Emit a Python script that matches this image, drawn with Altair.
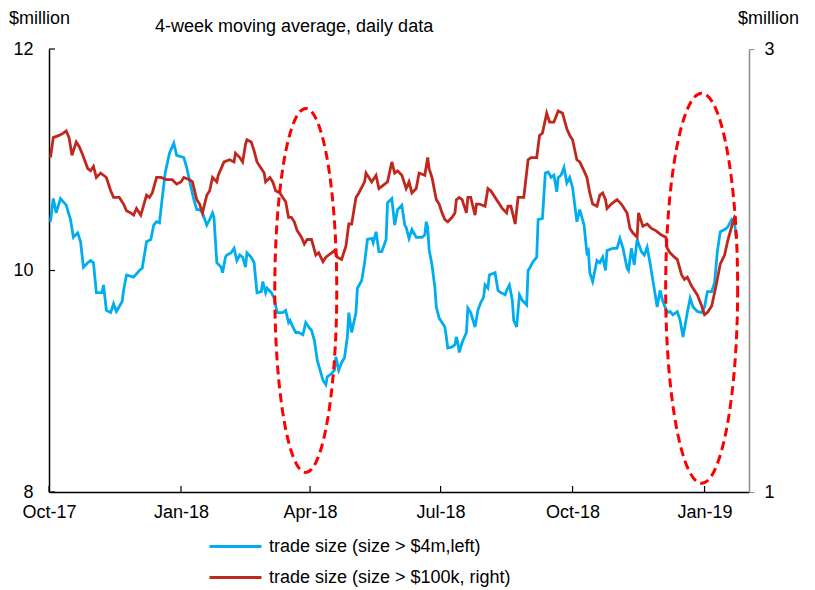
import altair as alt
import pandas as pd

FONT = "Liberation Sans"
BASE = pd.Timestamp("2017-10-01")

# days since 2017-10-01 and values (left axis, $million) - trade size > $4m
blue_days = [1, 3, 5, 8, 12, 15, 17, 20, 22, 24, 27, 29, 31, 33, 37, 38, 40, 43, 45, 47,
             51, 52, 54, 59, 63, 65, 68, 71, 73, 75, 77, 79, 81, 84, 87, 89, 94, 96, 99, 101,
             103, 105, 107, 110, 112, 114, 115, 117, 120, 121, 123, 124, 127, 129, 131, 133, 135, 137, 138, 141,
             143, 145, 148, 149, 151, 152, 155, 157, 159, 163, 165, 167, 168, 170, 172, 174, 177, 179, 181, 183,
             185, 187, 189, 191, 193, 194, 197, 199, 200, 202, 204, 206, 208, 209, 211, 214, 215, 218, 220, 222,
             225, 226, 228, 230, 232, 235, 236, 239, 241, 243, 246, 248, 249, 251, 253, 256, 260, 262, 263, 264,
             265, 267, 269, 270, 272, 274, 276, 277, 278, 281, 283, 284, 285, 286, 288, 291, 292, 294, 297, 299,
             301, 303, 304, 306, 307, 311, 313, 315, 318, 319, 321, 323, 324, 326, 328, 330, 333, 334, 335, 337,
             340, 341, 344, 346, 348, 350, 352, 354, 355, 357, 359, 361, 363, 365, 368, 370, 373, 375, 376, 377,
             379, 382, 384, 386, 388, 389, 393, 396, 398, 400, 403, 404, 406, 408, 410, 413, 415, 417, 419, 421,
             424, 426, 428, 431, 433, 435, 438, 440, 442, 445, 447, 449, 452, 455, 457, 459, 462, 464, 466, 468,
             471, 473, 476, 478, 479]
blue_vals = [10.44, 10.65, 10.52, 10.65, 10.59, 10.46, 10.30, 10.34, 10.26, 10.03, 10.07, 10.09, 10.07, 9.80, 9.80, 9.87, 9.64, 9.62, 9.70, 9.63,
             9.72, 9.82, 9.96, 9.94, 10.00, 10.02, 10.26, 10.28, 10.41, 10.44, 10.43, 10.66, 10.88, 11.06, 11.15, 11.04, 11.02, 10.93, 10.75, 10.64,
             10.55, 10.55, 10.52, 10.41, 10.46, 10.52, 10.48, 10.07, 10.03, 9.98, 10.12, 10.14, 10.16, 10.20, 10.09, 10.14, 10.12, 10.03, 10.16, 10.12,
             10.07, 9.80, 9.81, 9.90, 9.80, 9.84, 9.80, 9.75, 9.62, 9.62, 9.64, 9.53, 9.55, 9.49, 9.44, 9.44, 9.42, 9.53, 9.49, 9.46,
             9.37, 9.19, 9.10, 9.01, 8.97, 9.04, 9.07, 9.10, 9.22, 9.10, 9.17, 9.21, 9.40, 9.62, 9.44, 9.62, 9.84, 9.91, 10.07, 10.28,
             10.29, 10.25, 10.35, 10.17, 10.17, 10.28, 10.61, 10.65, 10.41, 10.55, 10.59, 10.41, 10.39, 10.29, 10.37, 10.30, 10.30, 10.32, 10.44, 10.39,
             10.19, 10.05, 9.85, 9.67, 9.57, 9.53, 9.49, 9.40, 9.30, 9.31, 9.33, 9.40, 9.35, 9.26, 9.35, 9.44, 9.66, 9.62, 9.49, 9.64,
             9.71, 9.76, 9.87, 9.84, 9.96, 9.98, 9.82, 9.80, 9.78, 9.82, 9.87, 9.73, 9.55, 9.49, 9.78, 9.73, 9.69, 10.00, 10.02, 10.07,
             10.12, 10.46, 10.47, 10.88, 10.89, 10.84, 10.86, 10.71, 10.84, 10.86, 10.93, 10.79, 10.84, 10.75, 10.44, 10.55, 10.41, 10.16, 10.18, 9.98,
             9.90, 10.09, 10.07, 10.12, 10.00, 10.18, 10.20, 10.20, 10.29, 10.21, 10.02, 10.00, 10.20, 10.05, 10.28, 10.17, 10.14, 10.21, 10.07, 9.91,
             9.67, 9.82, 9.72, 9.62, 9.63, 9.60, 9.63, 9.55, 9.40, 9.62, 9.75, 9.67, 9.63, 9.62, 9.67, 9.81, 9.81, 9.89, 10.18, 10.35,
             10.37, 10.39, 10.46, 10.43, 10.30]

# days since 2017-10-01 and values (right axis, $million) - trade size > $100k
red_days = [1, 3, 7, 10, 12, 14, 16, 19, 21, 23, 27, 29, 31, 33, 36, 38, 40, 43, 45, 49,
            52, 54, 57, 59, 61, 64, 68, 70, 72, 75, 78, 82, 86, 89, 92, 94, 98, 100, 103, 105,
            107, 110, 112, 114, 117, 118, 120, 122, 126, 129, 130, 133, 135, 137, 138, 141, 143, 145, 148, 150,
            151, 154, 156, 158, 161, 163, 165, 167, 169, 171, 173, 176, 178, 180, 183, 186, 188, 191, 193, 195,
            197, 199, 201, 204, 207, 209, 211, 214, 216, 220, 221, 223, 225, 228, 230, 232, 236, 239, 241, 243,
            246, 249, 251, 253, 256, 258, 262, 264, 265, 267, 270, 272, 274, 276, 278, 281, 283, 284, 286, 288,
            291, 292, 294, 297, 298, 300, 304, 306, 308, 312, 314, 316, 319, 320, 322, 325, 327, 329, 331, 334,
            336, 340, 342, 344, 347, 349, 352, 355, 358, 361, 363, 365, 368, 370, 373, 375, 377, 379, 382, 384,
            386, 388, 389, 392, 396, 399, 403, 405, 407, 410, 411, 414, 417, 420, 423, 425, 427, 430, 431, 433,
            436, 438, 441, 443, 445, 448, 452, 455, 457, 459, 462, 465, 468, 471, 473, 476, 478, 479]
red_vals = [2.51, 2.60, 2.61, 2.62, 2.63, 2.60, 2.52, 2.58, 2.56, 2.53, 2.46, 2.45, 2.47, 2.42, 2.44, 2.43, 2.42, 2.36, 2.33, 2.33,
            2.30, 2.27, 2.26, 2.25, 2.28, 2.25, 2.34, 2.33, 2.35, 2.42, 2.42, 2.41, 2.41, 2.39, 2.40, 2.42, 2.41, 2.40, 2.32, 2.30,
            2.26, 2.34, 2.36, 2.42, 2.40, 2.43, 2.46, 2.49, 2.50, 2.49, 2.53, 2.51, 2.49, 2.57, 2.59, 2.58, 2.54, 2.49, 2.46, 2.44,
            2.40, 2.42, 2.40, 2.36, 2.35, 2.33, 2.31, 2.24, 2.24, 2.22, 2.18, 2.15, 2.12, 2.14, 2.14, 2.07, 2.08, 2.04, 2.06, 2.07,
            2.08, 2.09, 2.06, 2.05, 2.11, 2.21, 2.21, 2.33, 2.35, 2.40, 2.44, 2.42, 2.40, 2.43, 2.37, 2.38, 2.40, 2.49, 2.44, 2.45,
            2.43, 2.37, 2.40, 2.35, 2.37, 2.44, 2.43, 2.51, 2.46, 2.42, 2.32, 2.30, 2.26, 2.23, 2.22, 2.24, 2.26, 2.32, 2.33, 2.32,
            2.26, 2.33, 2.33, 2.25, 2.30, 2.30, 2.29, 2.37, 2.36, 2.32, 2.30, 2.28, 2.26, 2.29, 2.29, 2.21, 2.33, 2.33, 2.33, 2.50,
            2.51, 2.51, 2.61, 2.62, 2.71, 2.67, 2.67, 2.72, 2.71, 2.64, 2.61, 2.59, 2.50, 2.49, 2.45, 2.42, 2.35, 2.30, 2.29, 2.34,
            2.35, 2.32, 2.28, 2.30, 2.32, 2.30, 2.26, 2.19, 2.17, 2.15, 2.26, 2.20, 2.21, 2.19, 2.18, 2.17, 2.16, 2.15, 2.10, 2.08,
            2.06, 2.05, 1.98, 1.96, 1.97, 1.93, 1.89, 1.84, 1.80, 1.81, 1.84, 1.93, 2.03, 2.07, 2.13, 2.20, 2.24, 2.23]

BLUE_LABEL = "trade size (size > $4m,left)"
RED_LABEL = "trade size (size > $100k, right)"
SUBTITLE = "4-week moving average, daily data"
UNIT = "$million"
BLUE = "#00AEEF"
RED = "#C0281E"

x_tick_dates = ["2017-10-01", "2018-01-01", "2018-04-01", "2018-07-01", "2018-10-01", "2019-01-01"]
left_ticks = [8, 10, 12]
right_ticks = [1, 2, 3]

# highlighted periods (dashed ellipses): centre date, centre value (left axis), half-width/half-height px
ell_dates = ["2018-03-29", "2018-12-30"]
ell_vals = [9.82, 9.84]
ell_rx = [31, 36]
ell_ry = [182, 195]

df_blue = pd.DataFrame({"date": BASE + pd.to_timedelta(blue_days, unit="D"),
                        "value": blue_vals, "series": BLUE_LABEL})
df_red = pd.DataFrame({"date": BASE + pd.to_timedelta(red_days, unit="D"),
                       "value": red_vals, "series": RED_LABEL})


def dt(s):
    t = pd.Timestamp(s)
    return alt.DateTime(year=t.year, month=t.month, date=t.day)


x_scale = alt.Scale(domain=[dt("2017-10-01"), dt("2019-02-01")])
x_axis = alt.Axis(values=[dt(d) for d in x_tick_dates], format="%b-%y", title=None,
                  labelFontSize=18, labelFont=FONT, labelColor="black", tickSize=0,
                  labelPadding=11, labelFlush=False, labelOverlap=False, grid=False,
                  domainColor="black", domainWidth=1.5)

color_scale = alt.Scale(domain=[BLUE_LABEL, RED_LABEL], range=[BLUE, RED])
legend = alt.Legend(orient="none", legendX=159, legendY=482, title=None, symbolType="stroke",
                    symbolSize=2700, symbolStrokeWidth=3, labelFontSize=18, labelFont=FONT,
                    labelColor="black", labelOffset=6, labelLimit=0, clipHeight=31,
                    rowPadding=0, padding=0)

blue_line = alt.Chart(df_blue).mark_line(strokeWidth=2.8).encode(
    x=alt.X("date:T", scale=x_scale, axis=x_axis),
    y=alt.Y("value:Q", scale=alt.Scale(domain=[8, 12], nice=False, zero=False),
            axis=alt.Axis(orient="left", values=left_ticks, format="d", tickSize=0, labelPadding=16,
                          labelFontSize=18, labelFont=FONT, labelColor="black", grid=False,
                          domainColor="black", domainWidth=1.5,
                          title=UNIT, titleAngle=0, titleX=-10, titleY=-31, titleAlign="center",
                          titleBaseline="middle", titleFontSize=18, titleFont=FONT,
                          titleFontWeight="normal", titleColor="black")),
    color=alt.Color("series:N", scale=color_scale, legend=legend),
)

red_line = alt.Chart(df_red).mark_line(strokeWidth=2.8).encode(
    x=alt.X("date:T", scale=x_scale, axis=x_axis),
    y=alt.Y("value:Q", scale=alt.Scale(domain=[1, 3], nice=False, zero=False),
            axis=alt.Axis(orient="right", values=right_ticks, format="d", tickSize=5,
                          tickColor="#8C8C8C", labelPadding=10, labelFontSize=18, labelFont=FONT,
                          labelColor="black", grid=False, domainColor="#8C8C8C", domainWidth=1.5,
                          title=UNIT, titleAngle=0, titleX=19, titleY=-31, titleAlign="center",
                          titleBaseline="middle", titleFontSize=18, titleFont=FONT,
                          titleFontWeight="normal", titleColor="black")),
    color=alt.Color("series:N", scale=color_scale, legend=legend),
)


def ellipse_path(rx, ry):
    a = rx / ry
    k = 0.5523
    return (f"M {a:.4f} 0 C {a:.4f} {k} {a*k:.4f} 1 0 1 C {-a*k:.4f} 1 {-a:.4f} {k} {-a:.4f} 0 "
            f"C {-a:.4f} {-k} {-a*k:.4f} -1 0 -1 C {a*k:.4f} -1 {a:.4f} {-k} {a:.4f} 0 Z")


ellipses = []
for d, v, rx, ry in zip(ell_dates, ell_vals, ell_rx, ell_ry):
    df_e = pd.DataFrame({"date": [pd.Timestamp(d)], "value": [v]})
    ellipses.append(
        alt.Chart(df_e).mark_point(shape=ellipse_path(rx, ry), filled=False, color="#FF0000",
                                   strokeWidth=3, strokeDash=[9, 5], opacity=1,
                                   size=(2 * ry) ** 2).encode(
            x=alt.X("date:T", scale=x_scale),
            y=alt.Y("value:Q", scale=alt.Scale(domain=[8, 12], nice=False, zero=False), axis=None),
        )
    )

x_ticks = alt.Chart(pd.DataFrame({"date": pd.to_datetime(x_tick_dates)})).mark_rule(
    color="black", strokeWidth=1.2).encode(
    x=alt.X("date:T", scale=x_scale), y=alt.value(443), y2=alt.value(437))

y_ticks = alt.Chart(pd.DataFrame({"v": left_ticks})).mark_rule(
    color="black", strokeWidth=1.2).encode(
    y=alt.Y("v:Q", scale=alt.Scale(domain=[8, 12], nice=False, zero=False), axis=None),
    x=alt.value(0), x2=alt.value(6))

subtitle = alt.Chart(pd.DataFrame({"t": [SUBTITLE]})).mark_text(
    align="left", baseline="middle", font=FONT, fontSize=18, color="black").encode(
    text="t:N", x=alt.value(106), y=alt.value(-22))

chart = alt.layer(blue_line, red_line, *ellipses, x_ticks, y_ticks, subtitle).resolve_scale(
    y="independent"
).properties(
    width=700, height=443,
    padding={"left": 41, "top": 41, "right": 50, "bottom": 98},
    autosize=alt.AutoSizeParams(type="none"),
).configure_view(stroke=None)

chart.save("out.html", embed_options={"renderer": "svg", "actions": False})
